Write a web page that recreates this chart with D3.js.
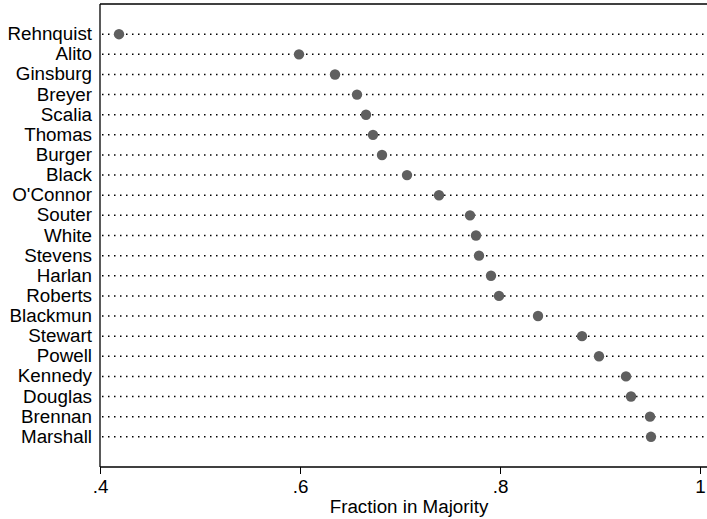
<!DOCTYPE html>
<html>
<head>
<meta charset="utf-8">
<script src="https://cdn.jsdelivr.net/npm/d3@7"></script>
<style>
  html, body { margin: 0; padding: 0; background: #fff; }
  svg { display: block; font-family: "Liberation Sans", Arial, Helvetica, sans-serif; }
</style>
</head>
<body>
<svg id="chart" width="707" height="519"></svg>
<script>
const justices = ["Rehnquist","Alito","Ginsburg","Breyer","Scalia","Thomas","Burger","Black","O'Connor","Souter","White","Stevens","Harlan","Roberts","Blackmun","Stewart","Powell","Kennedy","Douglas","Brennan","Marshall"];
const fractionInMajority = [0.419,0.599,0.635,0.657,0.666,0.673,0.682,0.707,0.739,0.770,0.776,0.779,0.791,0.799,0.838,0.882,0.899,0.926,0.931,0.950,0.951];
const xTicks = [0.4, 0.6, 0.8, 1.0];
const xTickLabels = [".4", ".6", ".8", "1"];
const xTitle = "Fraction in Majority";

(function () {
const svg = d3.select("#chart");
const pLeft = 100, pRight = 712, pTop = 4, pBottom = 467;
const fs = 18.8;

const x = d3.scaleLinear().domain([0.4, 1.0]).range([pLeft, 700]);
const y = d3.scalePoint().domain(justices).range([pTop, pBottom]).padding(1.5);

// dotted row lines
svg.append("g").selectAll("line").data(justices).join("line")
  .attr("x1", pLeft + 2).attr("x2", pRight)
  .attr("y1", d => y(d)).attr("y2", d => y(d))
  .attr("stroke", "#000").attr("stroke-width", 1.5)
  .attr("stroke-dasharray", "1.5,4.5");

// frame
svg.append("line").attr("x1", pLeft).attr("x2", pRight).attr("y1", pTop).attr("y2", pTop)
  .attr("stroke", "#000").attr("stroke-width", 1.3);
svg.append("line").attr("x1", pLeft).attr("x2", pLeft).attr("y1", pTop).attr("y2", pBottom)
  .attr("stroke", "#000").attr("stroke-width", 1.3);

// x axis
const xAxis = d3.axisBottom(x).tickValues(xTicks)
  .tickFormat((d, i) => xTickLabels[i]).tickSize(7).tickPadding(6);
const gx = svg.append("g").attr("transform", `translate(0,${pBottom})`).call(xAxis);
gx.select(".domain").attr("d", `M${pLeft},0H${pRight}`).attr("stroke-width", 1.3);
gx.selectAll(".tick line").attr("stroke-width", 1);
gx.selectAll(".tick text").attr("font-size", fs).attr("fill", "#000")
  .attr("font-family", "'Liberation Sans', Arial, Helvetica, sans-serif");

// y labels
svg.append("g").selectAll("text").data(justices).join("text")
  .attr("x", 92).attr("y", d => y(d)).attr("dy", "0.32em")
  .attr("text-anchor", "end").attr("font-size", fs).attr("fill", "#000")
  .text(d => d);

// points
svg.append("g").selectAll("circle").data(justices).join("circle")
  .attr("cx", (d, i) => x(fractionInMajority[i]))
  .attr("cy", d => y(d))
  .attr("r", 5.2)
  .attr("fill", "#5f5f5f");

// title
svg.append("text").attr("x", 409).attr("y", 513).attr("text-anchor", "middle")
  .attr("font-size", fs).attr("fill", "#000").text(xTitle);
})();
</script>
</body>
</html>
